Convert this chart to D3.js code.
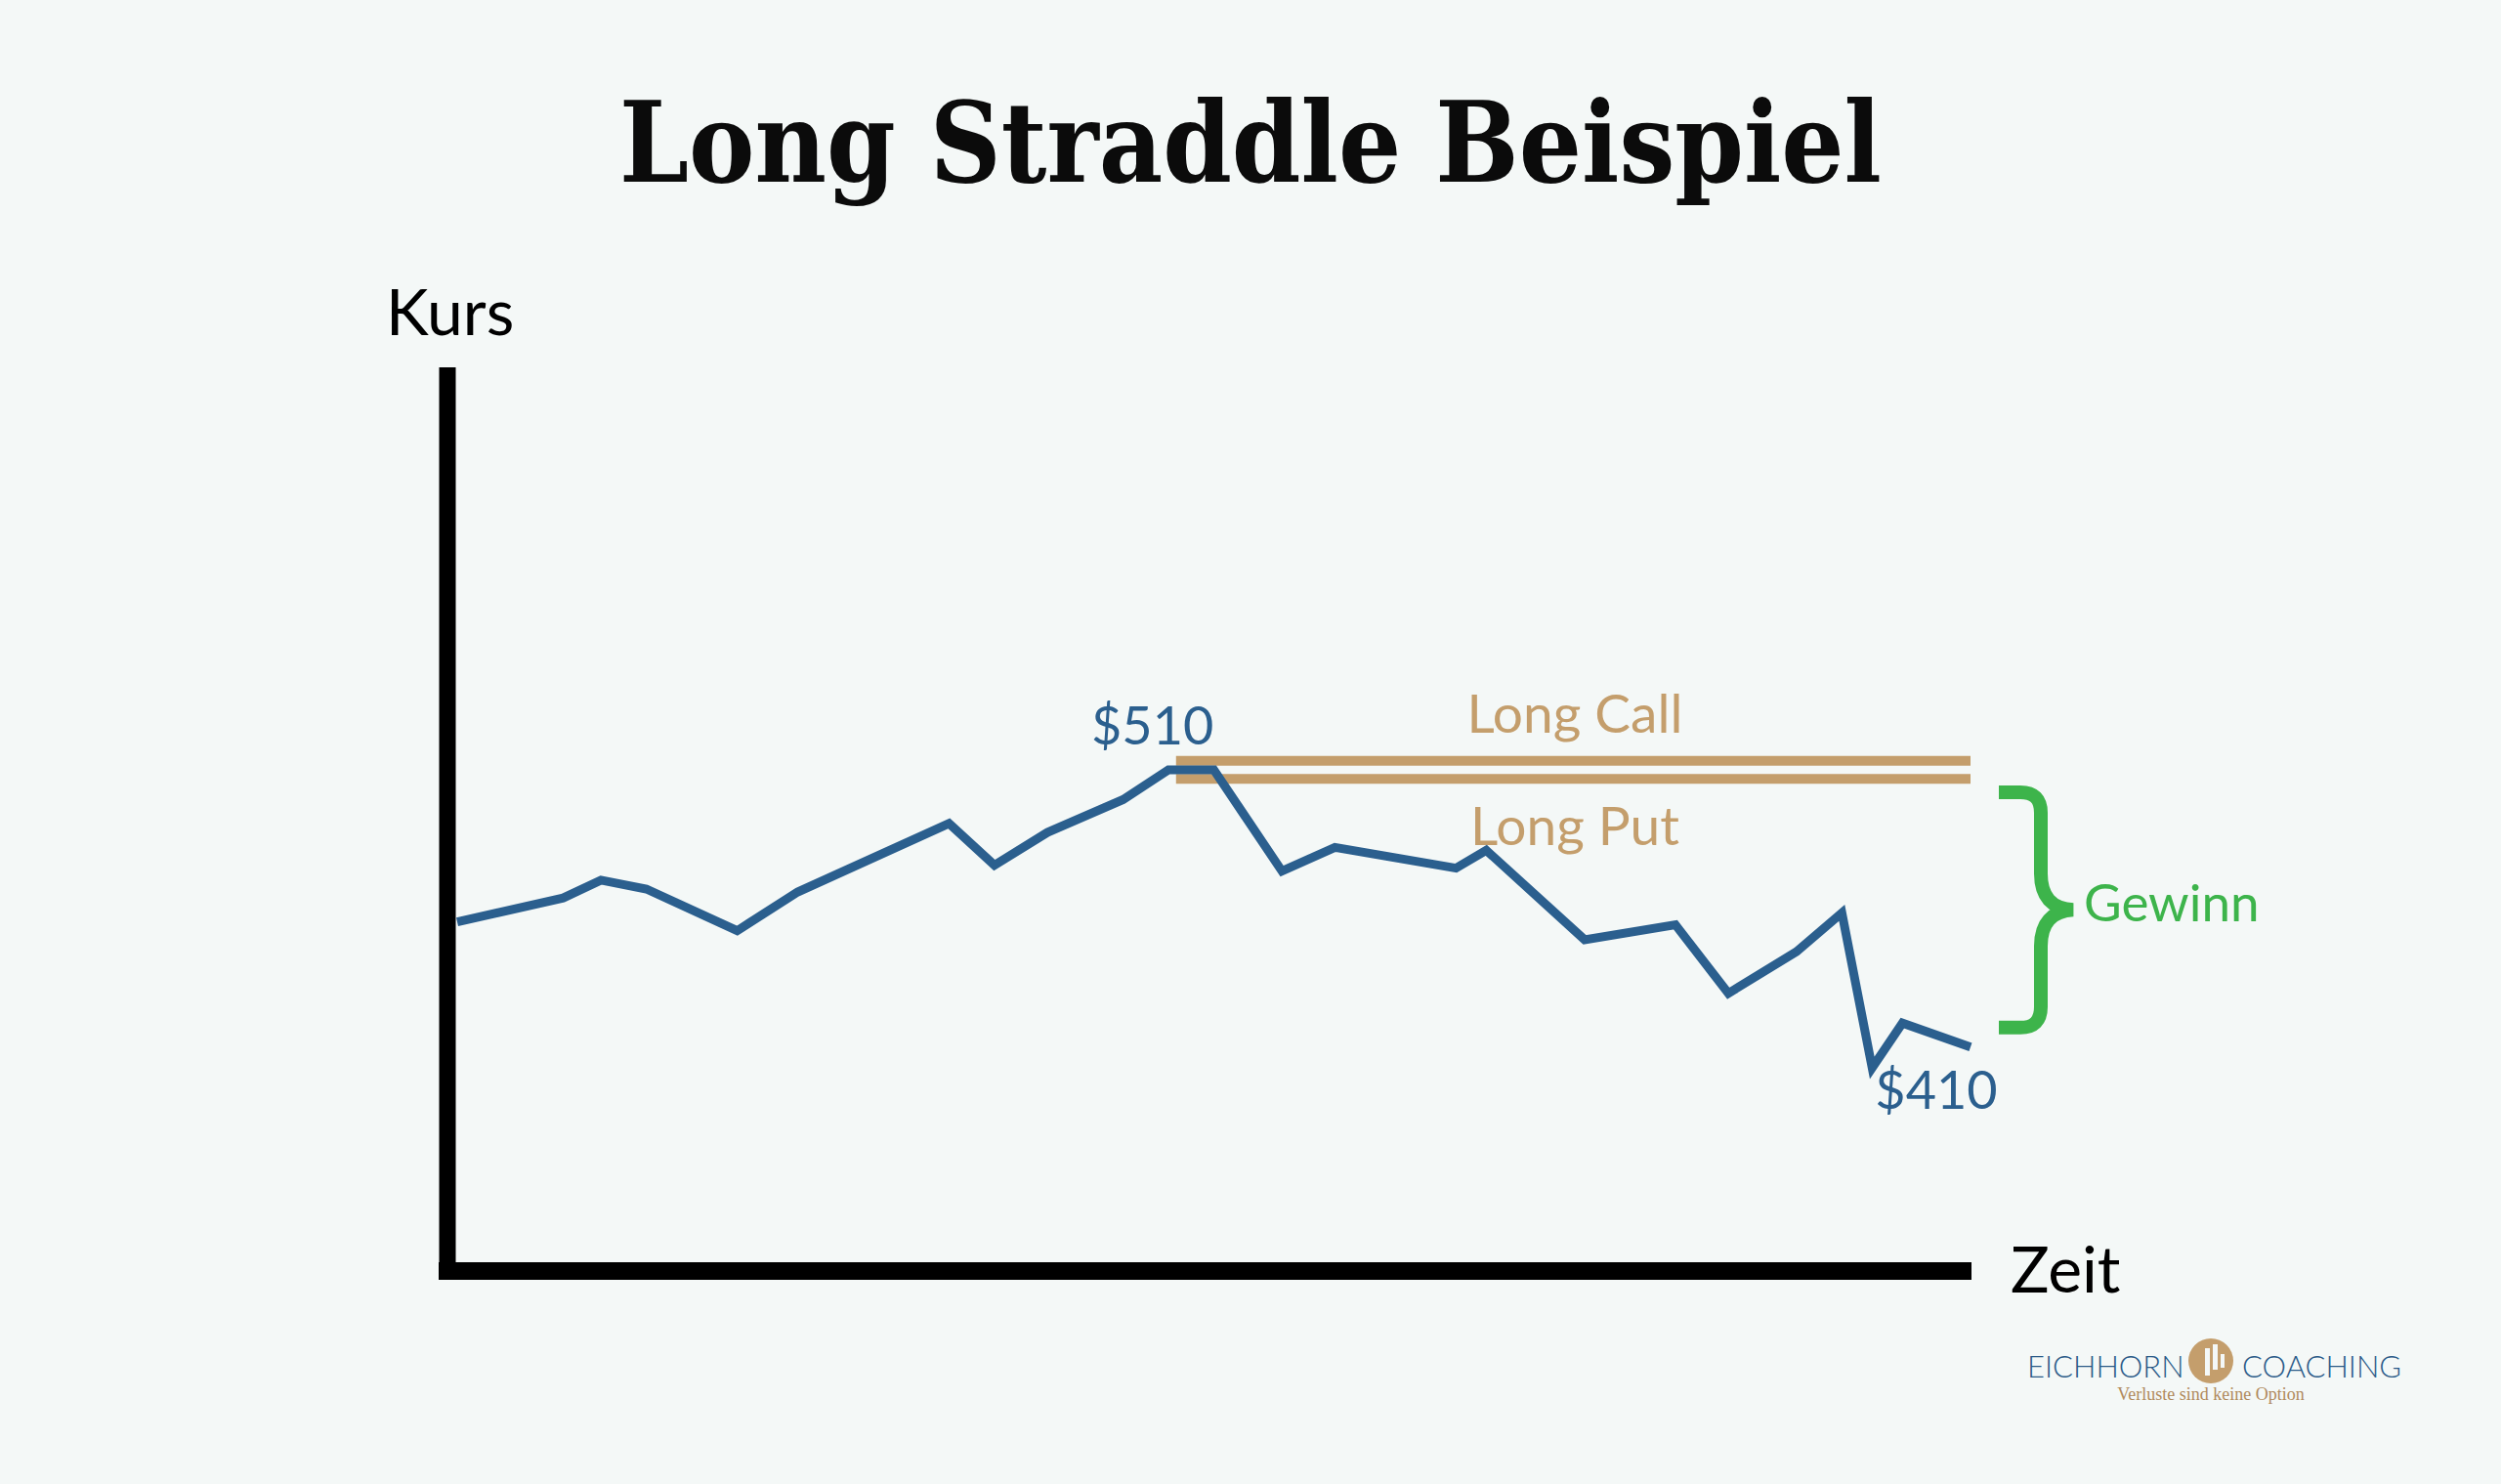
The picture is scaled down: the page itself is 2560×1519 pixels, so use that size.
<!DOCTYPE html>
<html>
<head>
<meta charset="utf-8">
<script src="https://cdn.jsdelivr.net/npm/d3@7"></script>
<style>
  body { margin: 0; background: #f4f8f7; }
  svg { display: block; }
</style>
</head>
<body>
<div class="straddle-chart"></div>
<script>
// price path (day, price)
var days   = [0, 7, 9.5, 12.5, 18.5, 22.5, 32.5, 35.5, 39, 44, 47, 50, 54.5, 58, 66, 68, 74.5, 80.5, 84, 88.5, 91.5, 93.5, 95.5, 100];
var prices = [459, 467, 473, 470, 456, 469, 492, 478, 489, 500, 510, 510, 476, 484, 477, 483, 453, 458, 435, 449, 462, 410, 425, 417];

// strikes of the two legs, drawn from the entry day to the end
var strikeNames  = ['Long Call', 'Long Put'];
var strikeValues = [513, 507];
var strikeDays   = [47.5, 100];

// profit range shown by the brace
var gewinnRange = [502.5, 423.5];

var width = 2560,
    height = 1519;

var blue = '#2b5f8e',
    tan = '#c49e6c',
    green = '#3db44b',
    labelFont = 'Lato, "Open Sans", sans-serif';

var x = d3.scaleLinear().domain([0, 100]).range([468, 2017]);
var y = d3.scaleLinear().domain([410, 510]).range([1093, 788]);

var svg = d3.select('.straddle-chart').append('svg')
    .attr('width', width)
    .attr('height', height)
    .style('background', '#f4f8f7');

// title
svg.append('text')
    .text('Long Straddle Beispiel')
    .attr('x', 1280)
    .attr('y', 186)
    .attr('text-anchor', 'middle')
    .attr('textLength', 1292)
    .attr('lengthAdjust', 'spacingAndGlyphs')
    .style('font-family', '"DejaVu Serif Condensed", "DejaVu Serif", serif')
    .style('font-weight', 'bold')
    .style('font-size', '114px')
    .attr('fill', '#0b0b0b');

// axes: just two thick black strokes
svg.append('line')
    .attr('x1', 458).attr('y1', 376)
    .attr('x2', 458).attr('y2', 1310)
    .attr('stroke', '#000').attr('stroke-width', 17);
svg.append('line')
    .attr('x1', 449).attr('y1', 1301)
    .attr('x2', 2018).attr('y2', 1301)
    .attr('stroke', '#000').attr('stroke-width', 18);

svg.append('text').text('Kurs')
    .attr('x', 395).attr('y', 343)
    .style('font-family', labelFont).style('font-size', '66px')
    .attr('fill', '#000');
svg.append('text').text('Zeit')
    .attr('x', 2058).attr('y', 1323)
    .style('font-family', labelFont).style('font-size', '66px')
    .attr('fill', '#000');

// strike lines
svg.selectAll('.strike').data(strikeValues)
    .enter().append('line')
        .attr('class', 'strike')
        .attr('x1', x(strikeDays[0]))
        .attr('x2', x(strikeDays[1]))
        .attr('y1', function(d) { return y(d); })
        .attr('y2', function(d) { return y(d); })
        .attr('stroke', tan)
        .attr('stroke-width', 10);

// strike labels: call above, put below
svg.selectAll('.strike-label').data(strikeNames)
    .enter().append('text')
        .attr('class', 'strike-label')
        .text(function(d) { return d; })
        .attr('x', 1612)
        .attr('y', function(d, i) { return i == 0 ? y(strikeValues[i]) - 29 : y(strikeValues[i]) + 68; })
        .attr('text-anchor', 'middle')
        .style('font-family', labelFont).style('font-size', '55px')
        .attr('fill', tan);

// price line
var line = d3.line()
    .x(function(d) { return x(d[0]); })
    .y(function(d) { return y(d[1]); });

svg.append('path')
    .datum(d3.zip(days, prices))
    .attr('d', line)
    .attr('fill', 'none')
    .attr('stroke', blue)
    .attr('stroke-width', 9)
    .attr('stroke-linejoin', 'miter');

// price labels at the high and low
var hi = d3.maxIndex(prices),
    lo = d3.minIndex(prices);

svg.append('text').text('$' + prices[hi])
    .attr('x', x(days[hi]) - 79).attr('y', y(prices[hi]) - 26)
    .style('font-family', labelFont).style('font-size', '54px')
    .attr('fill', blue);
svg.append('text').text('$' + prices[lo])
    .attr('x', x(days[lo]) + 3).attr('y', y(prices[lo]) + 42)
    .style('font-family', labelFont).style('font-size', '54px')
    .attr('fill', blue);

// brace for the profit
var yt = y(gewinnRange[0]),
    yb = y(gewinnRange[1]),
    ym = (yt + yb) / 2,
    bx = 2089;

svg.append('path')
    .attr('d', 'M2046,' + yt + 'H' + (bx - 21) + 'Q' + bx + ',' + yt + ' ' + bx + ',' + (yt + 21) +
        'V' + (ym - 37) + 'Q' + bx + ',' + (ym - 2) + ' ' + (bx + 33) + ',' + ym +
        'Q' + bx + ',' + (ym + 2) + ' ' + bx + ',' + (ym + 37) +
        'V' + (yb - 21) + 'Q' + bx + ',' + yb + ' ' + (bx - 21) + ',' + yb + 'H2046')
    .attr('fill', 'none')
    .attr('stroke', green)
    .attr('stroke-width', 14);

svg.append('text').text('Gewinn')
    .attr('x', 2133).attr('y', ym + 12)
    .style('font-family', labelFont).style('font-size', '53px')
    .attr('fill', green);

// logo
var logo = svg.append('g');
logo.append('text').text('EICHHORN')
    .attr('x', 2075).attr('y', 1410)
    .style('font-family', labelFont).style('font-weight', 300).style('font-size', '31px')
    .attr('fill', '#2a5a88');
logo.append('circle')
    .attr('cx', 2263).attr('cy', 1393).attr('r', 23)
    .attr('fill', tan);
logo.append('rect').attr('x', 2257).attr('y', 1380).attr('width', 5).attr('height', 28).attr('fill', '#f4f8f7');
logo.append('rect').attr('x', 2265).attr('y', 1376).attr('width', 5).attr('height', 26).attr('fill', '#f4f8f7');
logo.append('rect').attr('x', 2273).attr('y', 1386).attr('width', 4).attr('height', 14).attr('fill', '#f4f8f7');
logo.append('text').text('COACHING')
    .attr('x', 2295).attr('y', 1410)
    .style('font-family', labelFont).style('font-weight', 300).style('font-size', '31px')
    .attr('fill', '#2a5a88');
logo.append('text').text('Verluste sind keine Option')
    .attr('x', 2263).attr('y', 1433)
    .attr('text-anchor', 'middle')
    .style('font-family', '"Liberation Serif", serif').style('font-size', '18px')
    .attr('fill', '#b08a5c');
</script>
</body>
</html>
